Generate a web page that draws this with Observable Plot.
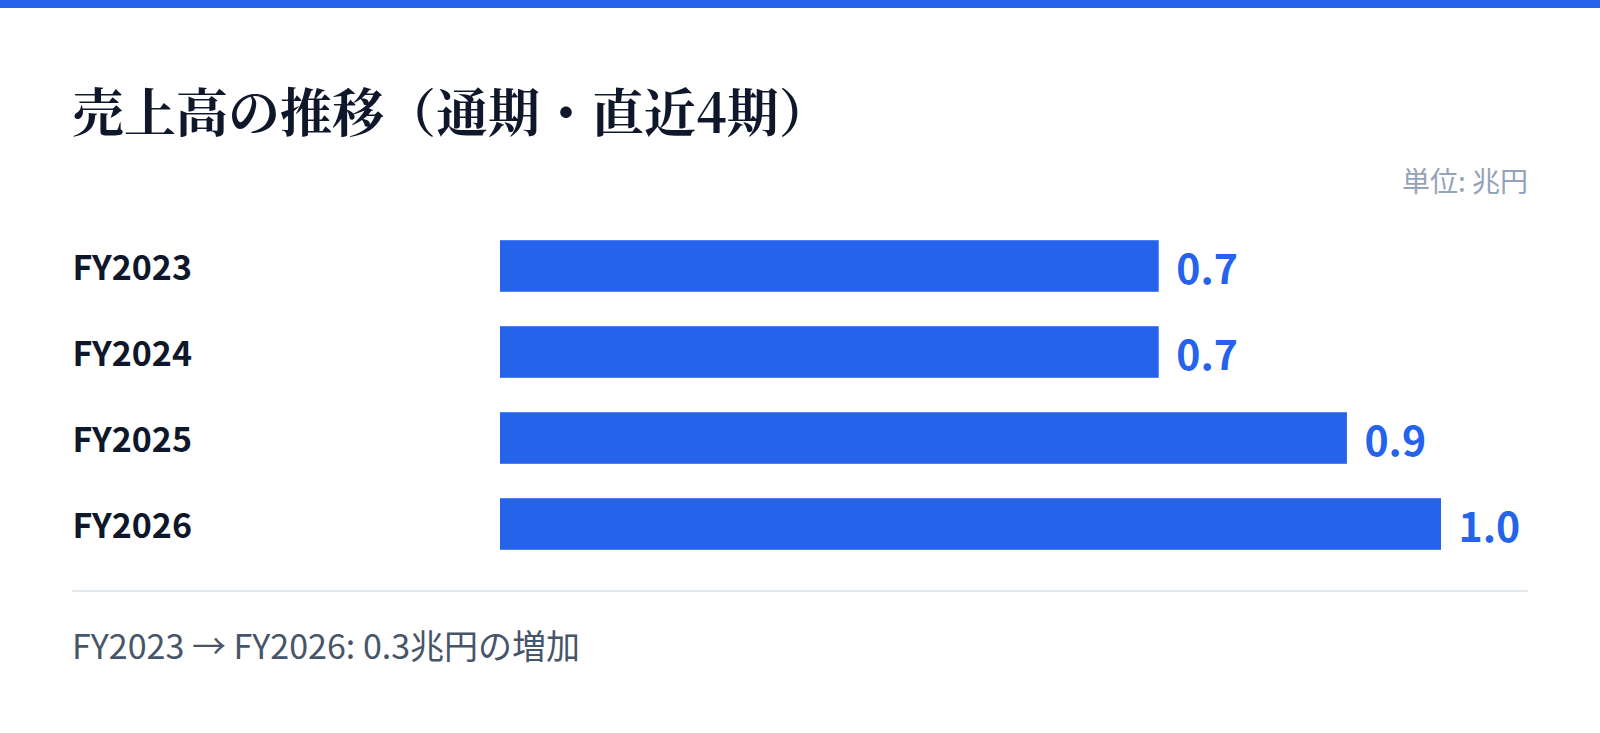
<!DOCTYPE html>
<html lang="ja">
<head>
<meta charset="utf-8">
<script src="https://cdn.jsdelivr.net/npm/d3@7"></script>
<script src="https://cdn.jsdelivr.net/npm/@observablehq/plot@0.6"></script>
<style>
  html, body { margin: 0; padding: 0; background: #ffffff; }
  body { width: 1600px; height: 733px; position: relative; overflow: hidden;
         font-family: "Noto Sans CJK JP", "Noto Sans", sans-serif; }
  #topbar { position: absolute; left: 0; top: 0; width: 1600px; height: 8px; background: #2563eb; }
  #title { position: absolute; left: 72px; top: 84px; font-size: 52px; line-height: 1; font-weight: 700;
           color: #0f172a; white-space: nowrap;
           font-family: "Noto Serif CJK JP", "Noto Sans CJK JP", serif; }
  #unit { position: absolute; right: 72px; top: 166px; font-size: 28px; line-height: 1; color: #94a3b8; white-space: nowrap; }
  #chart { position: absolute; left: 72px; top: 220px; }
  #rule { position: absolute; left: 72px; top: 590px; width: 1456px; height: 2px; background: #e2e8f0; }
  #footer { position: absolute; left: 72px; top: 628px; font-size: 34px; line-height: 1; color: #475569; white-space: nowrap; }
</style>
</head>
<body>
<div id="topbar"></div>
<div id="title"></div>
<div id="unit"></div>
<div id="chart"></div>
<div id="rule"></div>
<div id="footer"></div>
<script>
const titleText = "売上高の推移（通期・直近4期）";
const unitText = "単位: 兆円";
const footerText = "FY2023 → FY2026: 0.3兆円の増加";
const periods = ["FY2023", "FY2024", "FY2025", "FY2026"];
const sales = [0.7, 0.7, 0.9, 1.0];

document.getElementById("title").textContent = titleText;
document.getElementById("unit").textContent = unitText;
document.getElementById("footer").textContent = footerText;

const data = periods.map((p, i) => ({period: p, value: sales[i]}));

const chart = Plot.plot({
  width: 1456,
  height: 350,
  marginLeft: 428,
  marginRight: 87,
  marginTop: 3,
  marginBottom: 3,
  style: {background: "transparent", fontFamily: "'Noto Sans CJK JP', 'Noto Sans', sans-serif"},
  x: {domain: [0, 1.0], axis: null},
  y: {domain: periods, paddingInner: 0.4, paddingOuter: 0.2, round: false, axis: null},
  marks: [
    Plot.barX(data, {x: "value", y: "period", fill: "#2563eb"}),
    Plot.text(data, {
      y: "period", text: "period", frameAnchor: "left", textAnchor: "start",
      dx: -428, dy: 3, fontSize: 34, fontWeight: 700, fill: "#0f172a"
    }),
    Plot.text(data, {
      x: "value", y: "period", text: d => d.value.toFixed(1), textAnchor: "start",
      dx: 17, dy: 4, fontSize: 41, fontWeight: 700, fill: "#2563eb"
    })
  ]
});
document.getElementById("chart").appendChild(chart);
</script>
</body>
</html>
